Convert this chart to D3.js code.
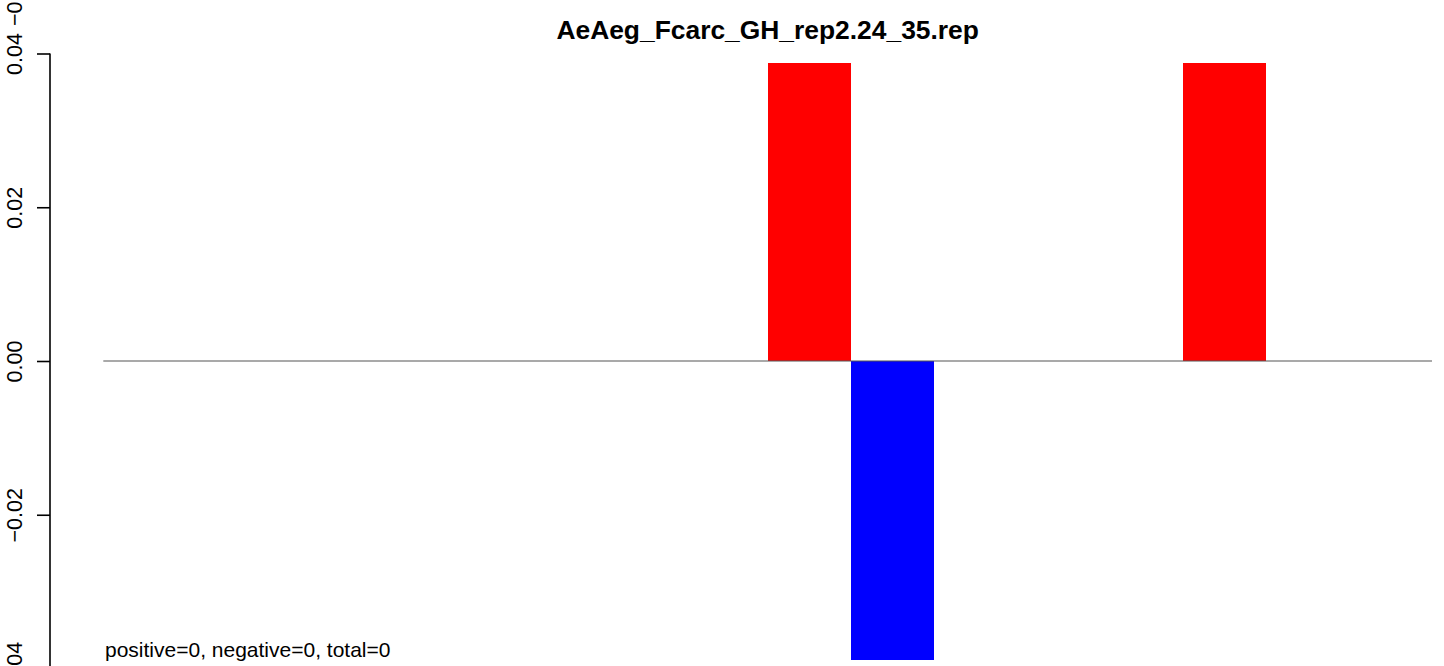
<!DOCTYPE html>
<html>
<head>
<meta charset="utf-8">
<script src="https://cdn.jsdelivr.net/npm/d3@7"></script>
<style>
  html, body { margin: 0; padding: 0; background: #fff; }
  svg { display: block; font-family: "Liberation Sans", Arial, sans-serif; }
</style>
</head>
<body>
<svg id="chart" width="1444" height="666"></svg>
<script>
const title = "AeAeg_Fcarc_GH_rep2.24_35.rep";
const footnote = "positive=0, negative=0, total=0";
const categories = ["1","2","3","4","5","6","7","8","9","10","11","12","13","14","15","16"];
const values = [0, 0, 0, 0, 0, 0, 0, 0, 0.0388, -0.0389, 0, 0, 0, 0.0388, 0, 0];
const yTicks = [-0.04, -0.02, 0, 0.02, 0.04];
const yTickLabels = ["\u22120.04", "\u22120.02", "0.00", "0.02", "0.04"];
const strayLabel = "\u22120.04";

const svg = d3.select("#chart");

const x = d3.scaleBand().domain(categories).range([103.3, 1432]).padding(0);
const y = d3.scaleLinear().domain([-0.04, 0.04]).range([668.5, 53.5]);

// bars
svg.append("g").selectAll("rect")
  .data(values.map((v, i) => ({ c: categories[i], v })))
  .join("rect")
  .attr("x", d => x(d.c))
  .attr("width", x.bandwidth())
  .attr("y", d => y(Math.max(0, d.v)))
  .attr("height", d => Math.abs(y(d.v) - y(0)))
  .attr("fill", d => d.v >= 0 ? "#ff0000" : "#0000ff")
  .attr("shape-rendering", "crispEdges");

// baseline
svg.append("line")
  .attr("x1", x.range()[0]).attr("x2", x.range()[1])
  .attr("y1", y(0)).attr("y2", y(0))
  .attr("stroke", "#555555").attr("stroke-width", 1.2);

// y axis
const axisX = 50;
const ax = svg.append("g").attr("transform", `translate(${axisX},0)`)
  .call(d3.axisLeft(y).tickValues(yTicks).tickSize(13).tickFormat((d, i) => yTickLabels[i]));
ax.select(".domain").attr("stroke", "#000").attr("stroke-width", 1.6)
  .attr("d", `M0,${y(0.04)}V${y(-0.04)}`);
ax.selectAll(".tick line").attr("stroke", "#000").attr("stroke-width", 1.6);
ax.selectAll(".tick text")
  .attr("fill", "#000")
  .attr("font-size", 21.5)
  .attr("font-family", "Liberation Sans, Arial, sans-serif")
  .attr("text-anchor", "middle")
  .attr("transform", "rotate(-90)")
  .attr("x", 0)
  .attr("y", -28)
  .attr("dy", 0);

// stray clipped label at the top-left
svg.append("text")
  .attr("transform", `translate(22,26) rotate(-90)`)
  .attr("text-anchor", "start")
  .attr("font-size", 21.5)
  .text(strayLabel);

// title
svg.append("text")
  .attr("x", (x.range()[0] + x.range()[1]) / 2)
  .attr("y", 39)
  .attr("text-anchor", "middle")
  .attr("font-weight", "bold")
  .attr("font-size", 26.4)
  .text(title);

// footnote
svg.append("text")
  .attr("x", 105)
  .attr("y", 657)
  .attr("font-size", 21)
  .text(footnote);
</script>
</body>
</html>
